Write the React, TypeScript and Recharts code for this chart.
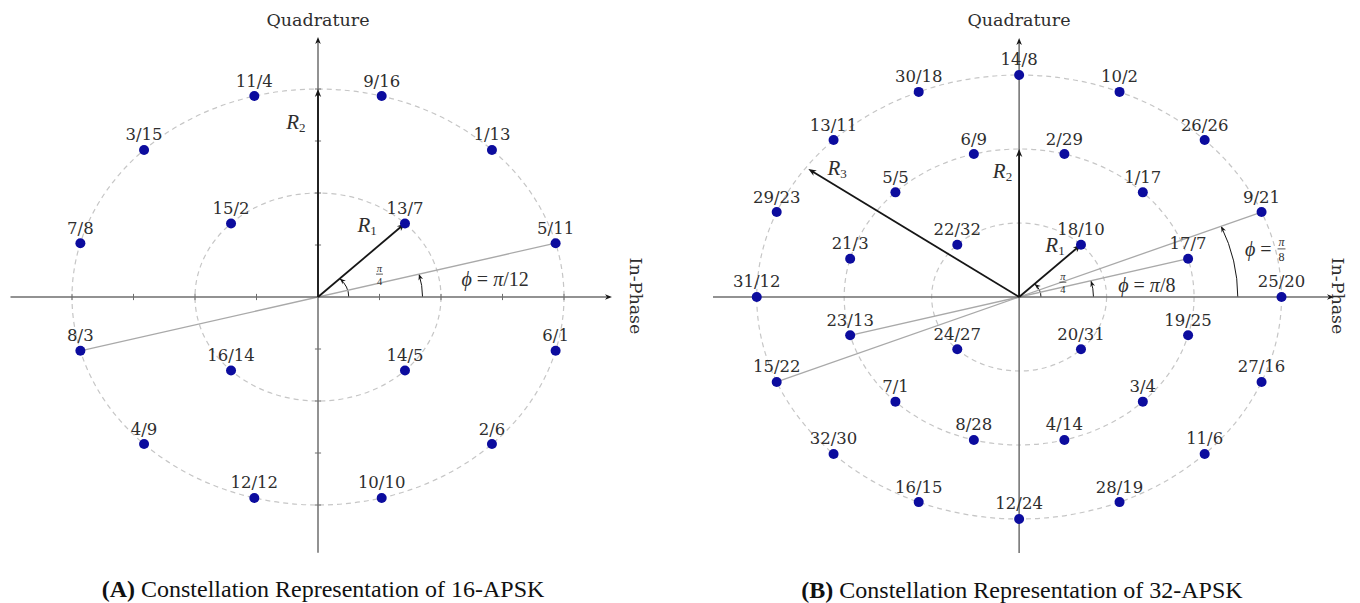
import React from 'react';
import { ScatterChart, Scatter, XAxis, YAxis, ReferenceLine, ReferenceArea, ReferenceDot, LabelList } from 'recharts';

const DOT_COLOR = '#0c0c9e';
const RING_COLOR = '#c6c6c6';
const AXIS_COLOR = '#6e6e6e';
const PHASE_COLOR = '#a9a9a9';
const INK = '#161616';
const TEXT_COLOR = '#2e2e2e';
const LABEL_FONT = '"DejaVu Serif", serif';
const MATH_FONT = '"Liberation Serif", "DejaVu Serif", serif';
const CAPTION_FONT = '"Liberation Serif", "Times New Roman", serif';

// 16-APSK : 4 + 12 points
const A_RADII = [1, 2];
const A_INNER_ANGLES = [45, 135, 225, 315];
const A_INNER_LABELS = ['13/7', '15/2', '16/14', '14/5'];
const A_OUTER_ANGLES = [15, 45, 75, 105, 135, 165, 195, 225, 255, 285, 315, 345];
const A_OUTER_LABELS = ['5/11', '1/13', '9/16', '11/4', '3/15', '7/8', '8/3', '4/9', '12/12', '10/10', '2/6', '6/1'];
const A_TICKS = [-2, -1.5, -1, -0.5, 0.5, 1, 1.5, 2];

// 32-APSK : 4 + 12 + 16 points
const B_RADII = [1, 2, 3];
const B_INNER_ANGLES = [45, 135, 225, 315];
const B_INNER_LABELS = ['18/10', '22/32', '24/27', '20/31'];
const B_MIDDLE_ANGLES = [15, 45, 75, 105, 135, 165, 195, 225, 255, 285, 315, 345];
const B_MIDDLE_LABELS = ['17/7', '1/17', '2/29', '6/9', '5/5', '21/3', '23/13', '7/1', '8/28', '4/14', '3/4', '19/25'];
const B_OUTER_ANGLES = [0, 22.5, 45, 67.5, 90, 112.5, 135, 157.5, 180, 202.5, 225, 247.5, 270, 292.5, 315, 337.5];
const B_OUTER_LABELS = ['25/20', '9/21', '26/26', '10/2', '14/8', '30/18', '13/11', '29/23', '31/12', '15/22', '32/30', '16/15', '12/24', '28/19', '11/6', '27/16'];

const rad = (deg: number) => (deg * Math.PI) / 180;
const polar = (r: number, deg: number) => ({ x: r * Math.cos(rad(deg)), y: r * Math.sin(rad(deg)) });
const ring = (r: number, angles: number[], labels: string[]) =>
  angles.map((a, i) => ({ ...polar(r, a), label: labels[i] }));

// small filled arrow tip pointing along (dx, dy)
const tip = (x: number, y: number, dx: number, dy: number, len: number, color: string) => {
  const l = Math.hypot(dx, dy) || 1;
  const ux = dx / l;
  const uy = dy / l;
  const bx = x - ux * len;
  const by = y - uy * len;
  const w = len * 0.4;
  return (
    <path
      d={`M${x},${y} L${bx - uy * w},${by + ux * w} L${x - ux * len * 0.7},${y - uy * len * 0.7} L${bx + uy * w},${by - ux * w} Z`}
      fill={color}
    />
  );
};

const arrowLine = (color: string, width: number, len: number, headColor = color) => (p: any) => {
  const { x1, y1, x2, y2 } = p;
  const dx = x2 - x1;
  const dy = y2 - y1;
  const l = Math.hypot(dx, dy) || 1;
  return (
    <g>
      <line x1={x1} y1={y1} x2={x2 - (dx / l) * len * 0.6} y2={y2 - (dy / l) * len * 0.6} stroke={color} strokeWidth={width} />
      {tip(x2, y2, dx, dy, len, headColor)}
    </g>
  );
};

const ringShape = (p: any) => (
  <ellipse
    cx={p.x + p.width / 2}
    cy={p.y + p.height / 2}
    rx={p.width / 2}
    ry={p.height / 2}
    fill="none"
    stroke={RING_COLOR}
    strokeWidth={1.2}
    strokeDasharray="5 4"
  />
);

const arcShape = (a0: number, a1: number) => (p: any) => {
  const cx = p.x + p.width / 2;
  const cy = p.y + p.height / 2;
  const rx = p.width / 2;
  const ry = p.height / 2;
  const sx = cx + rx * Math.cos(rad(a0));
  const sy = cy - ry * Math.sin(rad(a0));
  const ex = cx + rx * Math.cos(rad(a1));
  const ey = cy - ry * Math.sin(rad(a1));
  return (
    <g>
      <path d={`M${sx},${sy} A${rx},${ry} 0 0 0 ${ex},${ey}`} fill="none" stroke={INK} strokeWidth={1} />
      {tip(ex, ey, -rx * Math.sin(rad(a1)), -ry * Math.cos(rad(a1)), 6, INK)}
    </g>
  );
};

const dotShape = (p: any) => <circle cx={p.cx} cy={p.cy} r={5} fill={DOT_COLOR} />;

const rLabel = (sub: string) => (p: any) => (
  <text x={p.cx} y={p.cy} textAnchor="middle" dominantBaseline="central" fill={TEXT_COLOR} fontFamily={MATH_FONT} fontSize={21} fontStyle="italic">
    R
    <tspan fontSize={13} fontStyle="normal" dy={5}>{sub}</tspan>
  </text>
);

// stacked fraction: numerator, bar, denominator
const fraction = (num: string, den: string, size: number) => (p: any) => (
  <g fill={TEXT_COLOR} fontFamily={MATH_FONT} fontSize={size}>
    <text x={p.cx} y={p.cy - 2.5} textAnchor="middle" fontStyle="italic">{num}</text>
    <line x1={p.cx - size * 0.33} x2={p.cx + size * 0.33} y1={p.cy} y2={p.cy} stroke={TEXT_COLOR} strokeWidth={0.8} />
    <text x={p.cx} y={p.cy + size * 1.02} textAnchor="middle">{den}</text>
  </g>
);

const phiEquals = (den: string) => (p: any) => (
  <text x={p.cx} y={p.cy} textAnchor="middle" dominantBaseline="central" fill={TEXT_COLOR} fontFamily={MATH_FONT} fontSize={20}>
    <tspan fontStyle="italic">ϕ</tspan>
    {' = '}
    <tspan fontStyle="italic">π</tspan>
    {'/' + den}
  </text>
);

const phiFraction = (den: string) => (p: any) => (
  <g>
    <text x={p.cx - 10} y={p.cy} textAnchor="end" dominantBaseline="central" fill={TEXT_COLOR} fontFamily={MATH_FONT} fontSize={20}>
      <tspan fontStyle="italic">ϕ</tspan>
      {' ='}
    </text>
    {fraction('π', den, 12)(p)}
  </g>
);

const pointLabels = (
  <LabelList dataKey="label" position="top" offset={5} fill={TEXT_COLOR} fontSize={16.5} fontFamily={LABEL_FONT} />
);

const Panel16 = () => {
  const inner = ring(A_RADII[0], A_INNER_ANGLES, A_INNER_LABELS);
  const outer = ring(A_RADII[1], A_OUTER_ANGLES, A_OUTER_LABELS);
  const pa = polar(A_RADII[1], 15);
  const pb = polar(A_RADII[1], 195);
  const r1 = polar(A_RADII[0], 45);
  return (
    <ScatterChart width={680} height={603} margin={{ top: 37, right: 54.5, bottom: 46, left: 10.5 }}>
      <XAxis type="number" dataKey="x" domain={[-2.5, 2.5]} allowDataOverflow hide />
      <YAxis type="number" dataKey="y" domain={[-2.5, 2.5]} allowDataOverflow hide />
      {A_RADII.map((r) => (
        <ReferenceArea key={'ring' + r} x1={-r} x2={r} y1={-r} y2={r} shape={ringShape} ifOverflow="visible" />
      ))}
      {A_TICKS.map((t) => (
        <ReferenceLine key={'tx' + t} segment={[{ x: t, y: -0.03 }, { x: t, y: 0.03 }]} stroke={AXIS_COLOR} strokeWidth={1} ifOverflow="visible" />
      ))}
      {A_TICKS.map((t) => (
        <ReferenceLine key={'ty' + t} segment={[{ x: -0.025, y: t }, { x: 0.025, y: t }]} stroke={AXIS_COLOR} strokeWidth={1} ifOverflow="visible" />
      ))}
      <ReferenceLine segment={[pb, pa]} stroke={PHASE_COLOR} strokeWidth={1.3} ifOverflow="visible" />
      <ReferenceLine segment={[{ x: -2.5, y: 0 }, { x: 2.39, y: 0 }]} shape={arrowLine(AXIS_COLOR, 1.5, 7, INK)} ifOverflow="visible" />
      <ReferenceLine segment={[{ x: 0, y: -2.46 }, { x: 0, y: 2.5 }]} shape={arrowLine(AXIS_COLOR, 1.5, 7, INK)} ifOverflow="visible" />
      <ReferenceLine segment={[{ x: 0, y: 0 }, { x: 0, y: A_RADII[1] }]} shape={arrowLine(INK, 1.8, 8)} ifOverflow="visible" />
      <ReferenceLine segment={[{ x: 0, y: 0 }, r1]} shape={arrowLine(INK, 1.8, 8)} ifOverflow="visible" />
      <ReferenceArea x1={-0.25} x2={0.25} y1={-0.25} y2={0.25} shape={arcShape(0, 45)} ifOverflow="visible" />
      <ReferenceArea x1={-0.85} x2={0.85} y1={-0.85} y2={0.85} shape={arcShape(0, 15)} ifOverflow="visible" />
      <ReferenceDot x={-0.18} y={1.68} r={0} shape={rLabel('2')} ifOverflow="visible" />
      <ReferenceDot x={0.4} y={0.69} r={0} shape={rLabel('1')} ifOverflow="visible" />
      <ReferenceDot x={0.5} y={0.22} r={0} shape={fraction('π', '4', 10.5)} ifOverflow="visible" />
      <ReferenceDot x={1.44} y={0.17} r={0} shape={phiEquals('12')} ifOverflow="visible" />
      <Scatter data={outer} shape={dotShape} isAnimationActive={false}>
        {pointLabels}
      </Scatter>
      <Scatter data={inner} shape={dotShape} isAnimationActive={false}>
        {pointLabels}
      </Scatter>
    </ScatterChart>
  );
};

const Panel32 = () => {
  const inner = ring(B_RADII[0], B_INNER_ANGLES, B_INNER_LABELS);
  const middle = ring(B_RADII[1], B_MIDDLE_ANGLES, B_MIDDLE_LABELS);
  const outer = ring(B_RADII[2], B_OUTER_ANGLES, B_OUTER_LABELS);
  const m0 = polar(B_RADII[1], 15);
  const m1 = polar(B_RADII[1], 195);
  const o0 = polar(B_RADII[2], 22.5);
  const o1 = polar(B_RADII[2], 202.5);
  const r1 = polar(B_RADII[0], 45);
  return (
    <ScatterChart width={680} height={603} margin={{ top: 38, right: 26, bottom: 47, left: 33 }}>
      <XAxis type="number" dataKey="x" domain={[-3.5, 3.6]} allowDataOverflow hide />
      <YAxis type="number" dataKey="y" domain={[-3.5, 3.5]} allowDataOverflow hide />
      {B_RADII.map((r) => (
        <ReferenceArea key={'ring' + r} x1={-r} x2={r} y1={-r} y2={r} shape={ringShape} ifOverflow="visible" />
      ))}
      <ReferenceLine segment={[m1, m0]} stroke={PHASE_COLOR} strokeWidth={1.3} ifOverflow="visible" />
      <ReferenceLine segment={[o1, o0]} stroke={PHASE_COLOR} strokeWidth={1.3} ifOverflow="visible" />
      <ReferenceLine segment={[{ x: -3.5, y: 0 }, { x: 3.6, y: 0 }]} shape={arrowLine(AXIS_COLOR, 1.5, 7, INK)} ifOverflow="visible" />
      <ReferenceLine segment={[{ x: 0, y: -3.46 }, { x: 0, y: 3.5 }]} shape={arrowLine(AXIS_COLOR, 1.5, 7, INK)} ifOverflow="visible" />
      <ReferenceLine segment={[{ x: 0, y: 0 }, { x: 0, y: B_RADII[1] }]} shape={arrowLine(INK, 1.8, 8)} ifOverflow="visible" />
      <ReferenceLine segment={[{ x: 0, y: 0 }, r1]} shape={arrowLine(INK, 1.8, 8)} ifOverflow="visible" />
      <ReferenceLine segment={[{ x: 0, y: 0 }, { x: -2.41, y: 1.73 }]} shape={arrowLine(INK, 1.8, 8)} ifOverflow="visible" />
      <ReferenceArea x1={-0.25} x2={0.25} y1={-0.25} y2={0.25} shape={arcShape(0, 45)} ifOverflow="visible" />
      <ReferenceArea x1={-0.85} x2={0.85} y1={-0.85} y2={0.85} shape={arcShape(0, 15)} ifOverflow="visible" />
      <ReferenceArea x1={-2.5} x2={2.5} y1={-2.5} y2={2.5} shape={arcShape(0, 22.5)} ifOverflow="visible" />
      <ReferenceDot x={-2.08} y={1.74} r={0} shape={rLabel('3')} ifOverflow="visible" />
      <ReferenceDot x={-0.19} y={1.7} r={0} shape={rLabel('2')} ifOverflow="visible" />
      <ReferenceDot x={0.41} y={0.7} r={0} shape={rLabel('1')} ifOverflow="visible" />
      <ReferenceDot x={0.5} y={0.2} r={0} shape={fraction('π', '4', 10.5)} ifOverflow="visible" />
      <ReferenceDot x={1.46} y={0.16} r={0} shape={phiEquals('8')} ifOverflow="visible" />
      <ReferenceDot x={3.0} y={0.65} r={0} shape={phiFraction('8')} ifOverflow="visible" />
      <Scatter data={outer} shape={dotShape} isAnimationActive={false}>
        {pointLabels}
      </Scatter>
      <Scatter data={middle} shape={dotShape} isAnimationActive={false}>
        {pointLabels}
      </Scatter>
      <Scatter data={inner} shape={dotShape} isAnimationActive={false}>
        {pointLabels}
      </Scatter>
    </ScatterChart>
  );
};

const Note = ({ x, y, rotate, style, children }: any) => (
  <div
    style={{
      position: 'absolute',
      left: x,
      top: y,
      transform: `translate(-50%, -50%)${rotate ? ` rotate(${rotate}deg)` : ''}`,
      whiteSpace: 'nowrap',
      color: TEXT_COLOR,
      lineHeight: 1,
      ...style,
    }}
  >
    {children}
  </div>
);

const axisTitle = { fontFamily: LABEL_FONT, fontSize: 17.5 };
const captionStyle = { fontFamily: CAPTION_FONT, fontSize: 24, color: '#111' };

export default function App() {
  return (
    <div style={{ position: 'absolute', left: 0, top: 0, width: 1360, height: 603, background: '#fff', overflow: 'hidden' }}>
      <div style={{ position: 'absolute', left: 0, top: 0 }}>
        <Panel16 />
      </div>
      <div style={{ position: 'absolute', left: 680, top: 0 }}>
        <Panel32 />
      </div>
      <Note x={318} y={21} style={axisTitle}>Quadrature</Note>
      <Note x={1019} y={21} style={axisTitle}>Quadrature</Note>
      <Note x={635} y={296} rotate={90} style={axisTitle}>In-Phase</Note>
      <Note x={1337} y={296} rotate={90} style={axisTitle}>In-Phase</Note>
      <Note x={323} y={589} style={captionStyle}>
        <b>(A)</b> Constellation Representation of 16-APSK
      </Note>
      <Note x={1022} y={590} style={captionStyle}>
        <b>(B)</b> Constellation Representation of 32-APSK
      </Note>
    </div>
  );
}
